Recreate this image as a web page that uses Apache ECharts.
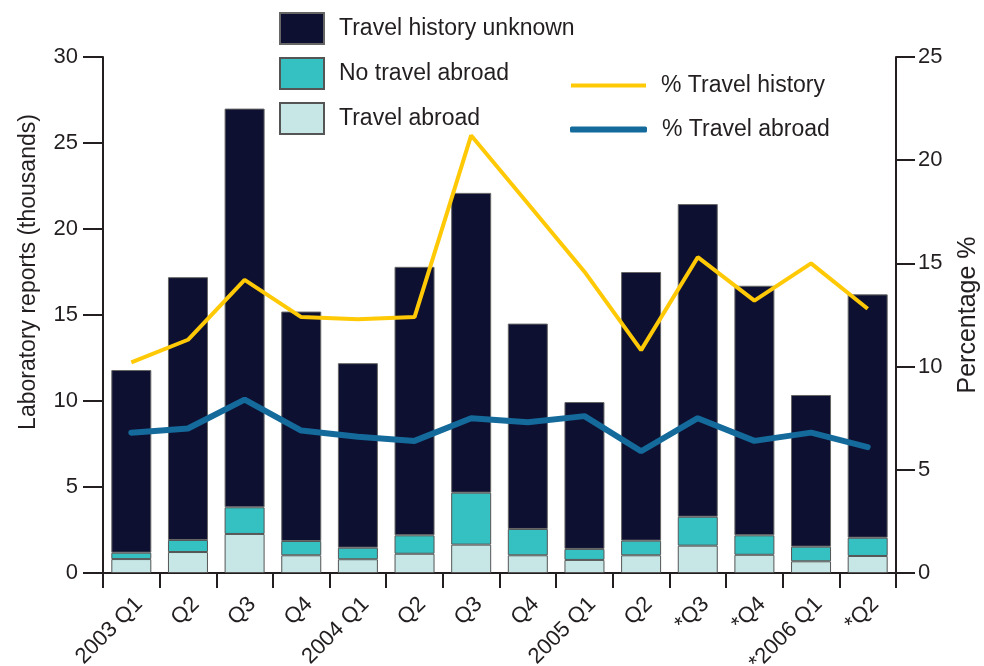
<!DOCTYPE html>
<html lang="en">
<head>
  <meta charset="utf-8" />
  <title>Laboratory reports by travel history</title>
  <script src="https://cdn.jsdelivr.net/npm/echarts@6.0.0/dist/echarts.min.js"></script>
  <style>
    html, body { margin: 0; padding: 0; background: #fff; }
  </style>
</head>
<body>
  <div id="main" style="width: 984px;height:666px;"></div>
  <script>
    // quarters (* = provisional)
    var categories = ['2003 Q1', 'Q2', 'Q3', 'Q4', '2004 Q1', 'Q2', 'Q3', 'Q4', '2005 Q1', 'Q2', '*Q3', '*Q4', '*2006 Q1', '*Q2'];
    // laboratory reports, thousands (stacked)
    var travelAbroad = [0.81, 1.22, 2.27, 1.03, 0.80, 1.12, 1.65, 1.03, 0.76, 1.03, 1.59, 1.06, 0.68, 0.99];
    var noTravelAbroad = [0.37, 0.70, 1.55, 0.83, 0.67, 1.07, 3.02, 1.53, 0.64, 0.85, 1.68, 1.13, 0.85, 1.06];
    var historyUnknown = [10.62, 15.28, 23.18, 13.34, 10.73, 15.61, 17.43, 11.94, 8.54, 15.62, 18.18, 14.51, 8.82, 14.15];
    // percentages (right axis)
    var pctTravelHistory = [10.2, 11.3, 14.2, 12.4, 12.3, 12.4, 21.2, 17.9, 14.6, 10.8, 15.3, 13.2, 15.0, 12.8];
    var pctTravelAbroad = [6.8, 7.0, 8.4, 6.9, 6.6, 6.4, 7.5, 7.3, 7.6, 5.9, 7.5, 6.4, 6.8, 6.1];

    var leftTicks = [0, 30, 5];
    var rightTicks = [0, 25, 5];

    var font = "'Liberation Sans', Arial, sans-serif";
    var ink = '#231f20';

    var chartDom = document.getElementById('main');
    var myChart = echarts.init(chartDom);
    var option;

    option = {
      animation: false,
      textStyle: { fontFamily: font, color: ink },
      grid: {
        left: 103,
        right: 88,
        top: 57,
        bottom: 93,
        containLabel: false,
        outerBoundsMode: 'none'
      },
      legend: [
        {
          data: ['Travel history unknown', 'No travel abroad', 'Travel abroad'],
          orient: 'vertical',
          left: 274,
          top: 7,
          icon: 'rect',
          itemWidth: 44,
          itemHeight: 31,
          itemGap: 12,
          selectedMode: false,
          textStyle: { fontSize: 23, color: ink, padding: [0, 0, 0, 10] }
        },
        {
          data: ['% Travel history'],
          left: 566,
          top: 69,
          icon: 'rect',
          itemWidth: 75,
          itemHeight: 4,
          selectedMode: false,
          textStyle: { fontSize: 23, color: ink, padding: [0, 0, 0, 10] }
        },
        {
          data: ['% Travel abroad'],
          left: 565,
          top: 113,
          icon: 'roundRect',
          itemWidth: 77,
          itemHeight: 6,
          selectedMode: false,
          textStyle: { fontSize: 23, color: ink, padding: [0, 0, 0, 10] }
        }
      ],
      graphic: [
        {
          type: 'text',
          x: 29,
          y: 272,
          rotation: Math.PI / 2,
          style: {
            text: 'Laboratory reports (thousands)',
            font: '23px ' + font,
            fill: ink,
            align: 'center',
            verticalAlign: 'middle'
          }
        }
      ],
      xAxis: {
        type: 'category',
        data: categories,
        boundaryGap: true,
        axisLine: { lineStyle: { color: ink, width: 2 } },
        axisTick: { show: true, interval: 0, length: 15, lineStyle: { color: ink, width: 2 } },
        axisLabel: { interval: 0, rotate: 45, fontSize: 22, color: ink, margin: 20, verticalAlign: 'top' },
        splitLine: { show: false }
      },
      yAxis: [
        {
          type: 'value',
          min: leftTicks[0],
          max: leftTicks[1],
          interval: leftTicks[2],
          axisLine: { show: true, lineStyle: { color: ink, width: 2 } },
          axisTick: { show: true, length: 20, lineStyle: { color: ink, width: 2 } },
          axisLabel: { fontSize: 22, color: ink, margin: 25 },
          splitLine: { show: false }
        },
        {
          type: 'value',
          position: 'right',
          min: rightTicks[0],
          max: rightTicks[1],
          interval: rightTicks[2],
          name: 'Percentage %',
          nameLocation: 'middle',
          nameGap: 60,
          nameTextStyle: { fontSize: 25, color: ink },
          axisLine: { show: true, lineStyle: { color: ink, width: 2 } },
          axisTick: { show: true, length: 19, lineStyle: { color: ink, width: 2 } },
          axisLabel: { fontSize: 22, color: ink, margin: 22 },
          splitLine: { show: false }
        }
      ],
      series: [
        {
          name: 'Travel abroad',
          type: 'bar',
          stack: 'reports',
          barWidth: 40,
          data: travelAbroad,
          itemStyle: { color: '#c6e7e6', borderColor: '#555', borderWidth: 1 }
        },
        {
          name: 'No travel abroad',
          type: 'bar',
          stack: 'reports',
          barWidth: 40,
          data: noTravelAbroad,
          itemStyle: { color: '#35c0c2', borderColor: '#555', borderWidth: 1 }
        },
        {
          name: 'Travel history unknown',
          type: 'bar',
          stack: 'reports',
          barWidth: 40,
          data: historyUnknown,
          itemStyle: { color: '#0d1030', borderColor: '#666', borderWidth: 1 }
        },
        {
          name: '% Travel history',
          type: 'line',
          yAxisIndex: 1,
          data: pctTravelHistory,
          symbol: 'none',
          itemStyle: { color: '#ffc905' },
          lineStyle: { color: '#ffc905', width: 4 }
        },
        {
          name: '% Travel abroad',
          type: 'line',
          yAxisIndex: 1,
          data: pctTravelAbroad,
          symbol: 'none',
          itemStyle: { color: '#156a9c' },
          lineStyle: { color: '#156a9c', width: 6, cap: 'round' }
        }
      ]
    };

    myChart.setOption(option);
  </script>
</body>
</html>
